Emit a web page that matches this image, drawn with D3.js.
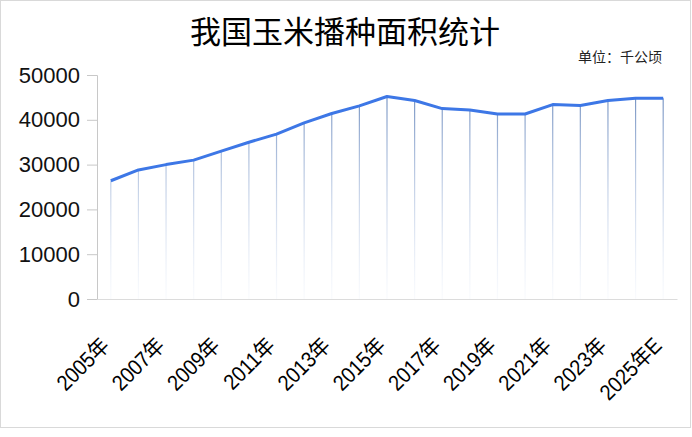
<!DOCTYPE html>
<html><head><meta charset="utf-8">
<script src="https://cdn.jsdelivr.net/npm/d3@7/dist/d3.min.js"></script>
<style>body{margin:0;background:#fff}svg{display:block}</style>
</head><body>
<svg id="c" width="692" height="437"></svg>
<script>
const years = ["2005年","2006年","2007年","2008年","2009年","2010年","2011年","2012年","2013年","2014年","2015年","2016年","2017年","2018年","2019年","2020年","2021年","2022年","2023年","2024年","2025年E"];
const area = [26400,28800,30000,31000,33000,35000,36800,39300,41400,43100,45200,44300,42500,42200,41300,41300,43400,43200,44300,44800,44800];
const yTicks = [0,10000,20000,30000,40000,50000];
const title = "我国玉米播种面积统计";
const unit = "单位：千公顷";

const svg = d3.select("#c");
svg.append("rect").attr("x",0.5).attr("y",0.5).attr("width",690).attr("height",427)
  .attr("fill","#fff").attr("stroke","#d9d9d9");

const m = {l:97, r:677, t:75, b:299};
const x = d3.scaleBand().domain(years).range([m.l, m.r]);
const y = d3.scaleLinear().domain([0,50000]).range([m.b, m.t]);
const cx = d => x(d) + x.bandwidth()/2;

svg.append("text").attr("x",345).attr("y",43).attr("text-anchor","middle")
  .attr("font-family","'Noto Sans CJK SC',sans-serif").attr("font-size",31).attr("fill","#000").text(title);
svg.append("text").attr("x",662).attr("y",62).attr("text-anchor","end")
  .attr("font-family","'Noto Sans CJK SC',sans-serif").attr("font-size",14).attr("fill","#222").text(unit);

// y axis
const ya = svg.append("g").attr("transform",`translate(${m.l},0)`)
  .call(d3.axisLeft(y).tickValues(yTicks).tickSize(10).tickPadding(7).tickFormat(d3.format("d")));
ya.select(".domain").attr("stroke","#c8c8c8");
ya.selectAll(".tick line").attr("stroke","#c8c8c8");
ya.selectAll("text").attr("font-family","'Liberation Sans',Arial,sans-serif").attr("font-size",22).attr("fill","#111");

// x axis baseline
const xa = svg.append("g").attr("transform",`translate(0,${m.b})`)
  .call(d3.axisBottom(x).tickSize(0).tickFormat(""));
xa.select(".domain").attr("stroke","#dcdcdc");

// gradient for drop lines
const defs = svg.append("defs");
const g = defs.append("linearGradient").attr("id","drop").attr("gradientUnits","userSpaceOnUse")
  .attr("x1",0).attr("x2",0).attr("y1",y(45000)).attr("y2",m.b);
g.append("stop").attr("offset","0%").attr("stop-color","#7a96c4").attr("stop-opacity",1);
g.append("stop").attr("offset","100%").attr("stop-color","#c8d6ee").attr("stop-opacity",0.1);

svg.append("g").selectAll("line").data(years).join("line")
  .attr("x1",d=>cx(d)).attr("x2",d=>cx(d))
  .attr("y1",(d,i)=>y(area[i])).attr("y2",m.b)
  .attr("stroke","url(#drop)").attr("stroke-width",1.2);

const line = d3.line().x((d,i)=>cx(years[i])).y(d=>y(d));
svg.append("path").datum(area).attr("d",line).attr("fill","none")
  .attr("stroke","#3d77e6").attr("stroke-width",3).attr("stroke-linejoin","round");

// x labels every other
svg.append("g").selectAll("text").data(years.filter((d,i)=>i%2===0)).join("text")
  .attr("transform",d=>`translate(${cx(d)},${m.b+48}) rotate(-45) scale(0.9,1)`)
  .attr("text-anchor","end")
  .attr("font-family","'Liberation Sans',Arial,'Noto Sans CJK SC',sans-serif").attr("font-size",22).attr("fill","#000")
  .text(d=>d);
</script>
</body></html>
